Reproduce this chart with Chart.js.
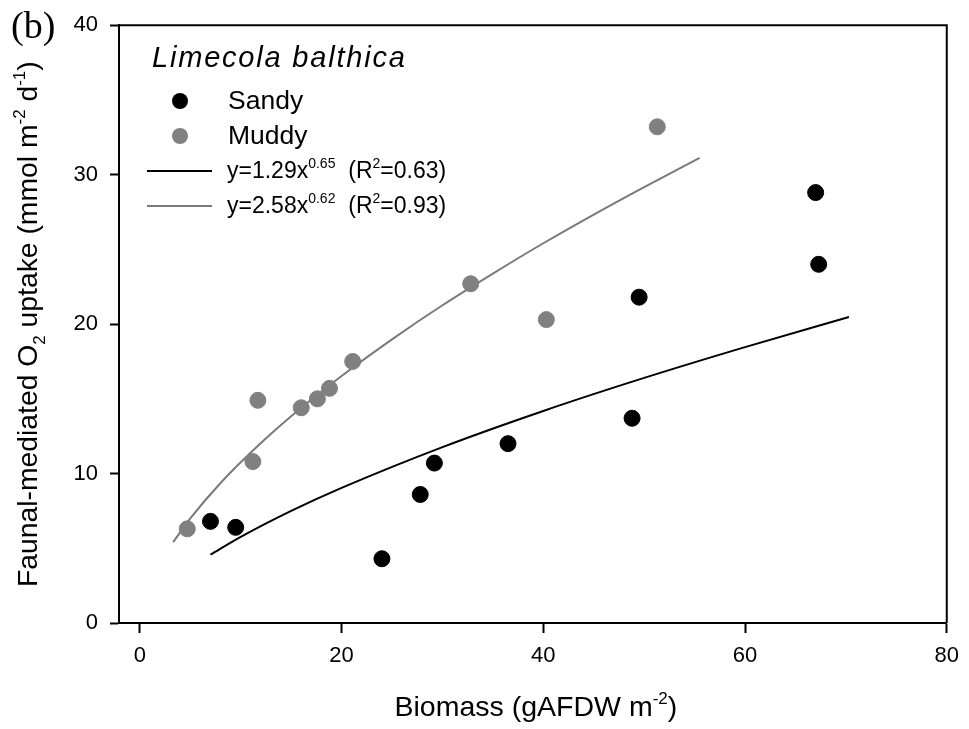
<!DOCTYPE html>
<html>
<head>
<meta charset="utf-8">
<script src="https://cdn.jsdelivr.net/npm/chart.js@4"></script>
<style>
  body { margin: 0; background: #fff; }
  canvas { display: block; }
</style>
</head>
<body>
<canvas id="scatterChart" width="969" height="729"></canvas>
<script>
// values
var sandyX = [7.0, 9.5, 24.0, 27.8, 29.2, 36.5, 48.8, 49.5, 67.0, 67.3];
var sandyY = [6.8, 6.4, 4.3, 8.6, 10.7, 12.0, 13.7, 21.8, 28.8, 24.0];
var muddyX = [4.7, 11.2, 11.7, 16.0, 17.6, 18.8, 21.1, 32.8, 40.3, 51.3];
var muddyY = [6.3, 10.8, 14.9, 14.4, 15.0, 15.7, 17.5, 22.7, 20.3, 33.2];

// fitted curves, points
var sandyFitX = [7, 10, 15, 20, 30, 40, 50, 60, 70.3];
var sandyFitY = [4.57, 5.76, 7.50, 9.04, 11.77, 14.19, 16.4, 18.46, 20.47];
var muddyFitX = [3.3, 5, 8, 12, 16, 20, 25, 30, 35, 40, 45, 50, 55.5];
var muddyFitY = [5.41, 7.0, 9.37, 12.04, 14.4, 16.53, 18.98, 21.26, 23.38, 25.41, 27.33, 29.17, 31.12];

var xTicks = [0, 20, 40, 60, 80];
var yTicks = [0, 10, 20, 30, 40];
var seriesNames = ["Sandy", "Muddy"];
var fitLabels = [
  [{t: "y=1.29x"}, {t: "0.65", s: "sup"}, {t: "  (R"}, {t: "2", s: "sup"}, {t: "=0.63)"}],
  [{t: "y=2.58x"}, {t: "0.62", s: "sup"}, {t: "  (R"}, {t: "2", s: "sup"}, {t: "=0.93)"}]
];

var SANS = "'Liberation Sans', Arial, sans-serif";

function pts(xs, ys){
  return xs.map(function(x, i){ return {x: x, y: ys[i]}; });
}

// text runs with super/subscripts
function richWidth(ctx, runs, size){
  var w = 0;
  runs.forEach(function(r){
    ctx.font = (r.s ? Math.round(size * 0.6) : size) + "px " + SANS;
    w += ctx.measureText(r.t).width;
  });
  return w;
}
function drawRich(ctx, runs, x, y, size){
  ctx.textBaseline = "alphabetic";
  ctx.textAlign = "left";
  runs.forEach(function(r){
    var fs = r.s ? Math.round(size * 0.6) : size;
    ctx.font = fs + "px " + SANS;
    var dy = r.s == "sup" ? -size * 0.42 : (r.s == "sub" ? size * 0.28 : 0);
    ctx.fillText(r.t, x, y + dy);
    x += ctx.measureText(r.t).width;
  });
}

var decorations = {
  id: "decorations",
  afterDraw: function(chart){
    var ctx = chart.ctx, a = chart.chartArea;
    ctx.save();
    // top and right frame
    ctx.strokeStyle = "#000";
    ctx.lineWidth = 2;
    ctx.beginPath();
    ctx.moveTo(a.left, a.top);
    ctx.lineTo(a.right, a.top);
    ctx.lineTo(a.right, a.bottom);
    ctx.stroke();

    ctx.fillStyle = "#000";
    // panel tag
    ctx.font = "38px 'Liberation Serif', 'Times New Roman', serif";
    ctx.textBaseline = "alphabetic";
    ctx.fillText("(b)", 11, 38);

    // x title
    var xr = [{t: "Biomass (gAFDW m"}, {t: "-2", s: "sup"}, {t: ")"}];
    var w = richWidth(ctx, xr, 28.5);
    drawRich(ctx, xr, (a.left + a.right) / 2 - w / 2 + 3, 716, 28.5);

    // y title
    var yr = [{t: "Faunal-mediated O"}, {t: "2", s: "sub"}, {t: " uptake (mmol m"}, {t: "-2", s: "sup"},
              {t: " d"}, {t: "-1", s: "sup"}, {t: ")"}];
    ctx.save();
    ctx.translate(37, (a.top + a.bottom) / 2);
    ctx.rotate(-Math.PI / 2);
    w = richWidth(ctx, yr, 28.3);
    drawRich(ctx, yr, -w / 2, 0, 28.3);
    ctx.restore();

    // legend
    ctx.font = "italic 29px " + SANS;
    ctx.letterSpacing = "1.8px";
    ctx.fillText("Limecola balthica", 152, 67);
    ctx.letterSpacing = "0px";
    var ds = chart.data.datasets;
    [0, 1].forEach(function(i){
      var cy = 101 + i * 35;
      ctx.fillStyle = ds[i].backgroundColor;
      ctx.beginPath();
      ctx.arc(180, cy, 8, 0, Math.PI * 2);
      ctx.fill();
      ctx.fillStyle = "#000";
      ctx.font = "26.5px " + SANS;
      ctx.textBaseline = "middle";
      ctx.fillText(seriesNames[i], 228, cy + 1);
    });
    [2, 3].forEach(function(i, k){
      var cy = 171 + k * 35;
      ctx.strokeStyle = ds[i].borderColor;
      ctx.lineWidth = 2;
      ctx.beginPath();
      ctx.moveTo(147, cy);
      ctx.lineTo(212, cy);
      ctx.stroke();
      ctx.fillStyle = "#000";
      drawRich(ctx, fitLabels[k], 227, cy + 7, 23);
    });
    ctx.restore();
  }
};

window.onload = function(){
  var ctx = document.getElementById("scatterChart").getContext("2d");
  new Chart(ctx, {
    type: "scatter",
    data: {
      datasets: [
        {label: "Sandy", data: pts(sandyX, sandyY), backgroundColor: "#000000", borderColor: "#000000",
         pointRadius: 8, pointHoverRadius: 8, order: 1},
        {label: "Muddy", data: pts(muddyX, muddyY), backgroundColor: "#808080", borderColor: "#808080",
         pointRadius: 8, pointHoverRadius: 8, order: 1},
        {label: "Sandy fit", data: pts(sandyFitX, sandyFitY), showLine: true, pointRadius: 0,
         borderColor: "#000000", borderWidth: 2, cubicInterpolationMode: "monotone", order: 2},
        {label: "Muddy fit", data: pts(muddyFitX, muddyFitY), showLine: true, pointRadius: 0,
         borderColor: "#7a7a7a", borderWidth: 2, cubicInterpolationMode: "monotone", order: 2}
      ]
    },
    options: {
      responsive: false,
      maintainAspectRatio: false,
      animation: false,
      devicePixelRatio: 1,
      layout: {padding: {top: 25, right: 17, left: 0, bottom: 0}},
      plugins: {legend: {display: false}, tooltip: {enabled: false}},
      scales: {
        x: {
          type: "linear", min: -2.07, max: 80,
          afterBuildTicks: function(axis){ axis.ticks = xTicks.map(function(v){ return {value: v}; }); },
          afterFit: function(axis){ axis.height = 106; },
          grid: {drawOnChartArea: false, drawTicks: true, tickLength: 10, color: "#000", tickWidth: 2},
          border: {display: true, color: "#000", width: 2},
          ticks: {color: "#000", font: {family: SANS, size: 22}, padding: 10, maxRotation: 0}
        },
        y: {
          type: "linear", min: 0, max: 40,
          afterBuildTicks: function(axis){ axis.ticks = yTicks.map(function(v){ return {value: v}; }); },
          afterFit: function(axis){ axis.width = 119; },
          grid: {drawOnChartArea: false, drawTicks: true, tickLength: 9, color: "#000", tickWidth: 2},
          border: {display: true, color: "#000", width: 2},
          ticks: {color: "#000", font: {family: SANS, size: 22}, padding: 12}
        }
      }
    },
    plugins: [decorations]
  });
};
</script>
</body>
</html>
